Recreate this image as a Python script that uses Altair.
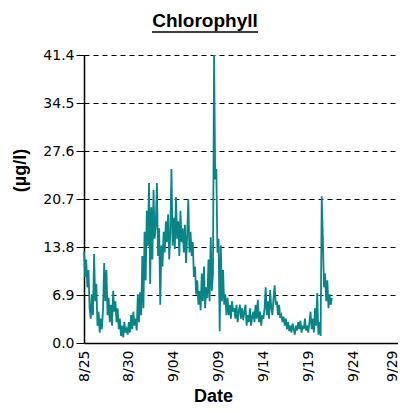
import altair as alt
import pandas as pd

# Chlorophyll readings (µg/l), one value every 3 hours, starting 8/25 00:00
d_0825 = [13.2, 9.5, 12.0, 8.0, 10.5, 5.0, 3.5, 7.0]
d_0826 = [4.0, 12.8, 6.0, 8.5, 2.5, 4.5, 1.5, 3.5]
d_0827 = [2.0, 5.0, 11.5, 6.0, 10.5, 4.0, 6.5, 3.0]
d_0828 = [5.5, 2.5, 7.5, 4.5, 6.0, 3.0, 5.0, 2.0]
d_0829 = [3.5, 1.0, 2.5, 0.8, 3.0, 1.5, 2.0, 1.2]
d_0830 = [3.0, 1.5, 4.0, 2.0, 4.5, 2.5, 3.5, 1.8]
d_0831 = [7.0, 3.0, 7.3, 4.0, 12.5, 5.0, 16.0, 9.0]
d_0901 = [19.0, 14.0, 23.0, 8.5, 19.5, 12.0, 22.0, 15.0]
d_0902 = [17.0, 23.0, 12.5, 16.5, 5.5, 14.0, 11.0, 16.0]
d_0903 = [13.0, 17.5, 14.5, 18.5, 12.0, 16.0, 25.0, 14.0]
d_0904 = [18.0, 13.5, 21.0, 15.0, 17.5, 12.5, 19.0, 14.5]
d_0905 = [16.5, 13.0, 17.0, 11.5, 15.5, 20.7, 13.0, 16.0]
d_0906 = [12.5, 14.5, 9.5, 11.0, 7.0, 9.0, 5.5, 7.5]
d_0907 = [4.7, 10.0, 6.0, 11.0, 5.0, 8.0, 6.5, 12.0]
d_0908 = [6.0, 15.2, 7.5, 10.0, 41.4, 23.5, 25.0, 13.0]
d_0909 = [15.0, 1.7, 14.0, 6.0, 10.5, 5.5, 7.0, 4.0]
d_0910 = [6.5, 4.0, 5.5, 3.5, 6.0, 4.5, 5.0, 3.5]
d_0911 = [5.5, 3.0, 4.5, 5.5, 3.5, 5.0, 3.3, 4.5]
d_0912 = [5.5, 2.5, 4.0, 3.0, 5.0, 2.5, 3.8, 4.5]
d_0913 = [3.0, 5.5, 3.5, 6.2, 3.0, 4.5, 2.5, 4.0]
d_0914 = [3.5, 5.0, 8.0, 4.0, 6.0, 3.5, 7.6, 5.0]
d_0915 = [4.0, 6.5, 8.3, 5.5, 6.0, 4.0, 5.5, 3.6]
d_0916 = [4.0, 3.0, 3.8, 2.5, 3.5, 2.0, 3.0, 1.7]
d_0917 = [2.5, 1.5, 2.8, 2.0, 1.2, 2.5, 1.8, 3.0]
d_0918 = [2.0, 3.2, 1.5, 2.5, 2.0, 3.5, 1.8, 2.5]
d_0919 = [1.5, 3.0, 4.5, 2.0, 3.5, 1.5, 5.0, 2.5]
d_0920 = [7.2, 1.2, 3.0, 1.0, 21.1, 15.0, 8.0, 10.0]
d_0921 = [6.0, 9.0, 5.0, 7.0, 5.5, 6.5]

chl = (d_0825 + d_0826 + d_0827 + d_0828 + d_0829 + d_0830 + d_0831 +
       d_0901 + d_0902 + d_0903 + d_0904 + d_0905 + d_0906 + d_0907 +
       d_0908 + d_0909 + d_0910 + d_0911 + d_0912 + d_0913 + d_0914 +
       d_0915 + d_0916 + d_0917 + d_0918 + d_0919 + d_0920 + d_0921)

start = "2008-08-25 00:00"
y_ticks = [0.0, 6.9, 13.8, 20.7, 27.6, 34.5, 41.4]
x_tick_dates = [(8, 25), (8, 30), (9, 4), (9, 9), (9, 14), (9, 19), (9, 24), (9, 29)]

times = pd.date_range(start, periods=len(chl), freq="3h")
df = pd.DataFrame({"date": times.strftime("%Y-%m-%dT%H:%M:%S"), "chl": chl})

x_vals = [alt.DateTime(year=2008, month=m, date=d) for m, d in x_tick_dates]

line = alt.Chart(df).mark_line(color="#0a8585", strokeWidth=1.8).encode(
    x=alt.X(
        "date:T",
        scale=alt.Scale(domain=[x_vals[0], x_vals[-1]]),
        axis=alt.Axis(
            values=x_vals, format="%-m/%d", labelAngle=270, labelAlign="right",
            labelBaseline="middle", grid=False, ticks=False, labelPadding=7,
            labelOffset={"condition": {"test": "datum.label == '9/29'", "value": -6}, "value": 0},
            labelFont="DejaVu Sans", labelFontSize=14, labelColor="black",
            domainColor="black", domainWidth=1.5,
            title="Date", titleX=129, titleY=58, titleBaseline="alphabetic",
            titleFont="Liberation Sans", titleFontSize=18, titleFontWeight="bold",
            titleColor="black",
        ),
    ),
    y=alt.Y(
        "chl:Q",
        scale=alt.Scale(domain=[0, 41.4], nice=False, zero=True),
        axis=alt.Axis(
            values=y_ticks, format=".1f", grid=True, gridDash=[5, 4],
            gridColor="black", gridWidth=1, tickSize=8, tickColor="black",
            labelPadding=2, labelFont="DejaVu Sans", labelFontSize=14,
            labelColor="black", domainColor="black", domainWidth=1.5,
            title="(µg/l)", titleX=-59, titleY=115, titleAngle=270,
            titleAlign="center", titleBaseline="alphabetic",
            titleFont="Liberation Sans", titleFontSize=18, titleFontWeight="bold",
            titleColor="black",
        ),
    ),
)

underline = alt.Chart(pd.DataFrame({"k": [0]})).mark_rule(color="black", strokeWidth=1.5).encode(
    x=alt.value(68), x2=alt.value(174), y=alt.value(-23)
)

chart = alt.layer(line, underline).properties(
    width=314,
    height=288,
    title=alt.TitleParams(
        "Chlorophyll", font="Liberation Sans", fontSize=19, fontWeight="bold",
        anchor="middle", dx=-36, offset=0, color="black",
    ),
    autosize=alt.AutoSizeParams(type="none"),
    padding={"left": 76, "top": 47, "right": 0, "bottom": 62},
).configure_view(stroke=None)

chart.save("out.html", embed_options={"renderer": "svg", "actions": False})
